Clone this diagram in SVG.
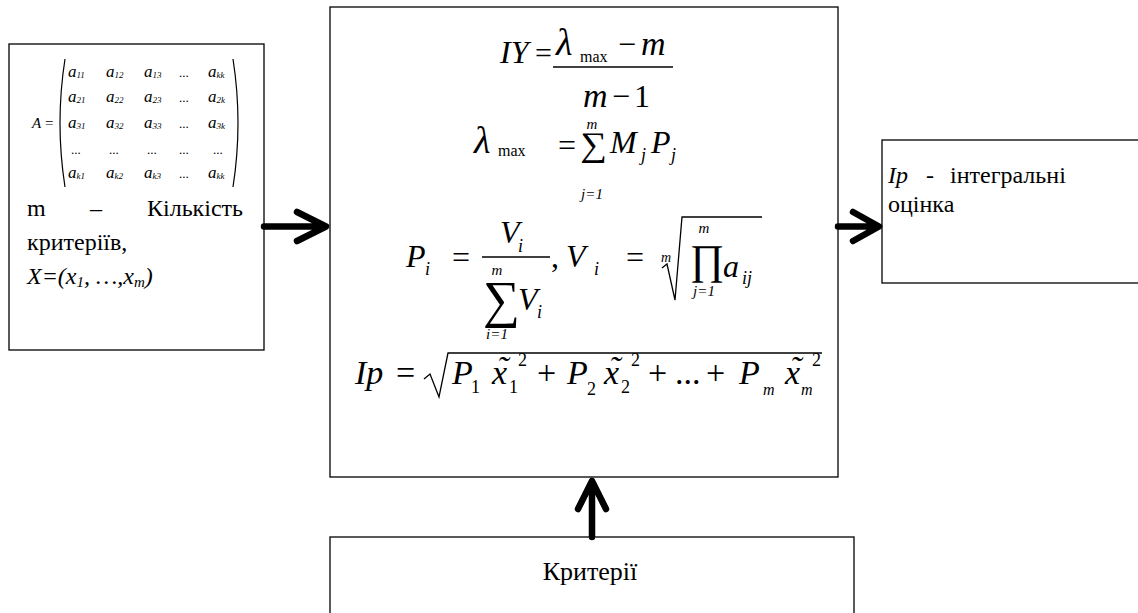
<svg xmlns="http://www.w3.org/2000/svg" width="1138" height="613" viewBox="0 0 1138 613" font-family="'Liberation Serif','Times New Roman',serif">
<style>
.box{fill:#fff;stroke:#000;stroke-width:1.3}
text{fill:#000}
.i{font-style:italic}
.n{font-style:normal}
.m32{font-size:32px}
.m34{font-size:34px}
.s18{font-size:18px}
.s16{font-size:16px}
.s15{font-size:15px}
.txt{font-size:24px}
.conn{fill:none;stroke:#000;stroke-width:6.5;stroke-linecap:round;stroke-linejoin:round}
.rad{fill:none;stroke:#000;stroke-width:1.3;stroke-linejoin:miter}
.bar{stroke:#000;stroke-width:1.3}
</style>
<rect width="1138" height="613" fill="#fff"/>

<g id="input">
<rect class="box" x="9" y="44" width="255" height="306"/>
<text class="i" x="32" y="128" font-size="15">A</text>
<text x="45" y="128" font-size="15">=</text>
<path d="M65,59 Q55,123 65,187" fill="none" stroke="#000" stroke-width="1.2"/>
<path d="M233,59 Q243,123 233,187" fill="none" stroke="#000" stroke-width="1.2"/>
<g font-size="17">
<text class="i" x="68" y="77">a<tspan font-size="9" dy="1">11</tspan></text>
<text class="i" x="106" y="77">a<tspan font-size="9" dy="1">12</tspan></text>
<text class="i" x="144" y="77">a<tspan font-size="9" dy="1">13</tspan></text>
<text x="179" y="77" font-size="13">...</text>
<text class="i" x="208" y="77">a<tspan font-size="9" dy="1">kk</tspan></text>
<text class="i" x="68" y="102">a<tspan font-size="9" dy="1">21</tspan></text>
<text class="i" x="106" y="102">a<tspan font-size="9" dy="1">22</tspan></text>
<text class="i" x="144" y="102">a<tspan font-size="9" dy="1">23</tspan></text>
<text x="179" y="102" font-size="13">...</text>
<text class="i" x="208" y="102">a<tspan font-size="9" dy="1">2k</tspan></text>
<text class="i" x="68" y="128">a<tspan font-size="9" dy="1">31</tspan></text>
<text class="i" x="106" y="128">a<tspan font-size="9" dy="1">32</tspan></text>
<text class="i" x="144" y="128">a<tspan font-size="9" dy="1">33</tspan></text>
<text x="179" y="128" font-size="13">...</text>
<text class="i" x="208" y="128">a<tspan font-size="9" dy="1">3k</tspan></text>
<text x="71" y="154" font-size="13">...</text>
<text x="109" y="154" font-size="13">...</text>
<text x="147" y="154" font-size="13">...</text>
<text x="179" y="154" font-size="13">...</text>
<text x="213" y="154" font-size="13">...</text>
<text class="i" x="68" y="178">a<tspan font-size="9" dy="1">k1</tspan></text>
<text class="i" x="106" y="178">a<tspan font-size="9" dy="1">k2</tspan></text>
<text class="i" x="144" y="178">a<tspan font-size="9" dy="1">k3</tspan></text>
<text x="179" y="178" font-size="13">...</text>
<text class="i" x="208" y="178">a<tspan font-size="9" dy="1">kk</tspan></text>
</g>
<text class="txt" x="27" y="216">m</text>
<text class="txt" x="90" y="216">–</text>
<text class="txt" x="243" y="216" text-anchor="end">Кількість</text>
<text class="txt" x="27" y="250">критеріїв,</text>
<text class="txt i" x="27" y="284">X=(x<tspan font-size="15" dy="3">1</tspan><tspan dy="-3">, …,x</tspan><tspan font-size="15" dy="3">m</tspan><tspan dy="-3">)</tspan></text>
</g>

<g id="model">
<rect class="box" x="330" y="7" width="508" height="470"/>
<!-- IY -->
<text class="i m32" x="500" y="63">IY</text>
<text x="535" y="63" font-size="30">=</text>
<line class="bar" x1="553" y1="67" x2="673" y2="67"/>
<text class="i" x="556" y="55" font-size="38">λ</text>
<text class="s16" x="580" y="62">max</text>
<text class="m32" x="618" y="55">−</text>
<text class="i m34" x="641" y="55">m</text>
<text class="i m34" x="583" y="107">m</text>
<text class="m32" x="612" y="107">−</text>
<text class="m32" x="634" y="107">1</text>
<!-- lambda max -->
<text class="i" x="474" y="153" font-size="38">λ</text>
<text class="s16" x="498" y="156">max</text>
<text class="m32" x="558" y="156">=</text>
<text transform="translate(580,156) scale(1.1,1)" font-size="34">∑</text>
<text class="i s15" x="592" y="129" text-anchor="middle">m</text>
<text class="i s15" x="592" y="199" text-anchor="middle">j=1</text>
<text class="i m32" x="610" y="153">M</text>
<text class="i s18" x="641" y="161">j</text>
<text class="i m32" x="651" y="153">P</text>
<text class="i s18" x="671" y="161">j</text>
<!-- Pi -->
<text class="i m32" x="406" y="267">P</text>
<text class="i s18" x="425" y="275">i</text>
<text class="m32" x="452" y="268">=</text>
<text class="i m32" x="500" y="243">V</text>
<text class="i s18" x="518" y="252">i</text>
<line class="bar" x1="482" y1="257" x2="550" y2="257"/>
<text x="483" y="317" font-size="52">∑</text>
<text class="i s15" x="497" y="275" text-anchor="middle">m</text>
<text class="i s15" x="497" y="339" text-anchor="middle">i=1</text>
<text class="i m32" x="518" y="310">V</text>
<text class="i s18" x="537" y="318">i</text>
<text class="m32" x="551" y="267">,</text>
<text class="i m32" x="566" y="267">V</text>
<text class="i s18" x="594" y="275">i</text>
<text class="m32" x="626" y="268">=</text>
<text class="i" x="661" y="262" font-size="14">m</text>
<path class="rad" d="M662,268 L667,264 L675,300 L682,217 L762,217"/>
<text x="690" y="274" font-size="42">∏</text>
<text class="i s15" x="704" y="233" text-anchor="middle">m</text>
<text class="i s15" x="704" y="296" text-anchor="middle">j=1</text>
<text class="i m32" x="723" y="277">a</text>
<text class="i s18" x="742" y="284">ij</text>
<!-- Ip -->
<text class="i m34" x="355" y="384">Ip</text>
<text class="m34" x="396" y="384">=</text>
<path class="rad" d="M424,379 L430,374 L439,397 L448,353 L822,353"/>
<text class="i m34" x="452" y="384">P</text>
<text class="s18" x="471" y="393">1</text>
<text class="i m34" x="492" y="384">x<tspan x="497" y="380">˜</tspan><tspan class="s18 n" x="518" y="366">2</tspan><tspan class="s18 n" x="509" y="393">1</tspan></text>
<text class="m34" x="537" y="384">+</text>
<text class="i m34" x="567" y="384">P</text>
<text class="s18" x="587" y="395">2</text>
<text class="i m34" x="604" y="384">x<tspan x="609" y="380">˜</tspan><tspan class="s18 n" x="631" y="366">2</tspan><tspan class="s18 n" x="621" y="393">2</tspan></text>
<text class="m34" x="648" y="384">+</text>
<text class="m34" x="675" y="384">...</text>
<text class="m34" x="706" y="384">+</text>
<text class="i m34" x="739" y="384">P</text>
<text class="i s16" x="763" y="395">m</text>
<text class="i m34" x="785" y="384">x<tspan x="790" y="380">˜</tspan><tspan class="s18 n" x="812" y="366">2</tspan><tspan class="s16" x="801" y="395">m</tspan></text>
</g>

<g id="output">
<rect class="box" x="882" y="140" width="270" height="143"/>
<text class="txt i" x="888" y="183">Ip</text>
<text class="txt" x="926" y="183">-</text>
<text class="txt" x="950" y="183">інтегральні</text>
<text class="txt" x="888" y="212">оцінка</text>
</g>

<g id="criteria">
<rect class="box" x="330" y="537" width="524" height="90"/>
<text x="590" y="580" font-size="26" text-anchor="middle">Критерії</text>
</g>

<g id="connectors">
<path class="conn" d="M264,226.5 L324,226.5 M297,212 L326,226.5 L297,241"/>
<path class="conn" d="M838,226.5 L876,226.5 M853,212 L879,226.5 L853,241"/>
<path class="conn" d="M592,537 L592,484 M578,509 L592,481 L606,509"/>
</g>
</svg>
